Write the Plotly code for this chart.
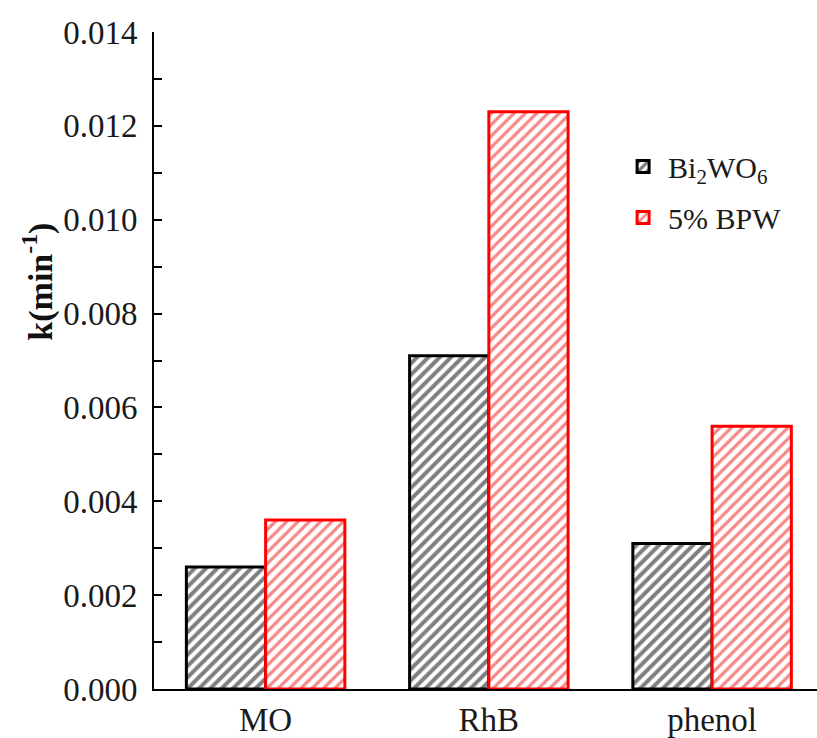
import plotly.graph_objects as go

# Rate constants k (min^-1) for each pollutant
categories = ["MO", "RhB", "phenol"]
k_bi2wo6 = [0.0026, 0.0071, 0.0031]
k_bpw = [0.0036, 0.0123, 0.0056]
y_ticks = [0.000, 0.002, 0.004, 0.006, 0.008, 0.010, 0.012, 0.014]
y_tick_text = ["0.000", "0.002", "0.004", "0.006", "0.008", "0.010", "0.012", "0.014"]

FONT = "Liberation Serif, Times New Roman, serif"
TEXT = "#1a1a1a"

fig = go.Figure()
fig.add_trace(go.Bar(
    x=categories, y=k_bi2wo6, name="Bi<sub>2</sub>WO<sub>6</sub>", legendgroup="g1",
    marker=dict(
        color="white",
        line=dict(color="black", width=3),
        pattern=dict(shape="/", fgcolor="black", bgcolor="white", size=8, solidity=0.5),
    ),
))
fig.add_trace(go.Bar(
    x=categories, y=k_bpw, name="5% BPW", legendgroup="g2",
    marker=dict(
        color="white",
        line=dict(color="#ff0000", width=3),
        pattern=dict(shape="/", fgcolor="#ee1111", bgcolor="white", size=8, solidity=0.4),
    ),
))

# Rotated y-axis label, placed a little above the axis midpoint
fig.add_annotation(
    text="<b>k(min<sup>-1</sup>)</b>", textangle=-90,
    xref="paper", yref="paper", x=-0.175, y=0.62,
    xanchor="center", yanchor="middle", showarrow=False,
    font=dict(family=FONT, size=34, color="#111"),
)

fig.update_layout(
    width=817, height=738,
    margin=dict(l=154, r=0, t=32, b=45),
    paper_bgcolor="white", plot_bgcolor="white",
    barmode="group", bargap=0.29, bargroupgap=0,
    font=dict(family=FONT, size=33, color=TEXT),
    showlegend=True,
    legend=dict(
        x=0.70, y=0.835, xanchor="left", yanchor="top",
        bgcolor="rgba(0,0,0,0)", font=dict(family=FONT, size=30, color=TEXT),
        itemwidth=40, traceorder="grouped", tracegroupgap=9,
    ),
    xaxis=dict(
        range=[-0.5, 2.47], showline=True, linecolor="black", linewidth=2,
        ticks="", showgrid=False, zeroline=False,
        tickfont=dict(family=FONT, size=33, color=TEXT),
    ),
    yaxis=dict(
        range=[0, 0.014], showline=True, linecolor="black", linewidth=2,
        tickvals=y_ticks, ticktext=y_tick_text, ticklabelstandoff=8,
        ticks="inside", ticklen=8, tickwidth=2, tickcolor="black",
        minor=dict(dtick=0.001, ticks="inside", ticklen=8, tickwidth=2, tickcolor="black"),
        showgrid=False, zeroline=False,
        tickfont=dict(family=FONT, size=33, color=TEXT),
    ),
)

fig.write_html("out.html")
